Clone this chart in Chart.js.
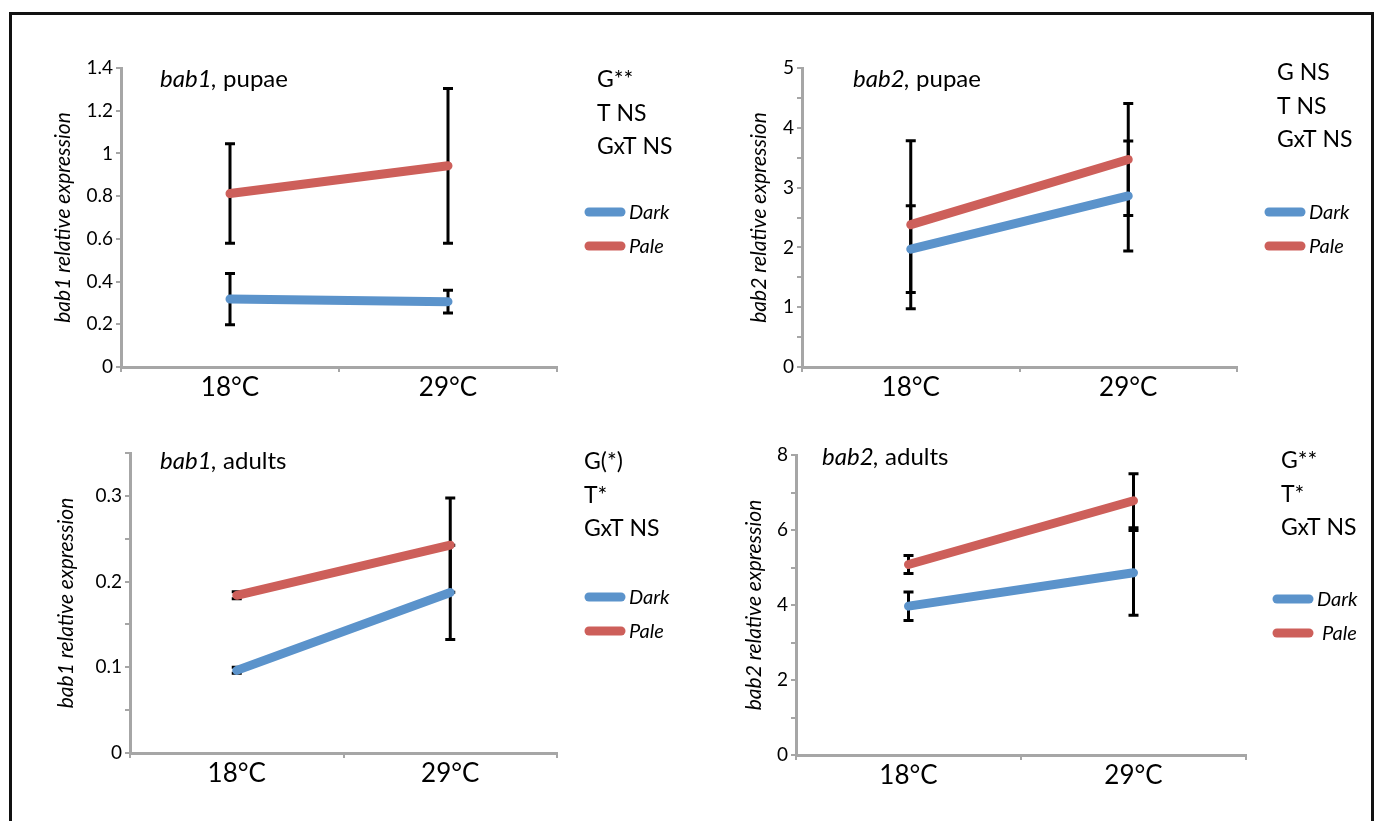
<!DOCTYPE html>
<html>
<head>
<meta charset="utf-8">
<script src="https://cdn.jsdelivr.net/npm/chart.js@4.4.1/dist/chart.umd.min.js"></script>
<style>
  body { margin: 0; background: #fff; width: 1378px; height: 821px; overflow: hidden; position: relative; font-family: Lato, sans-serif; }
  #frame { position: absolute; left: 9px; top: 12px; width: 1365px; height: 840px; border: 3px solid #111; box-sizing: border-box; }
  canvas { position: absolute; }
</style>
</head>
<body>
<div id="frame"></div>
<canvas id="p1" width="670" height="400" style="left:12px;top:15px"></canvas>
<canvas id="p2" width="682" height="400" style="left:688px;top:15px"></canvas>
<canvas id="p3" width="670" height="405" style="left:12px;top:415px"></canvas>
<canvas id="p4" width="682" height="405" style="left:688px;top:415px"></canvas>
<script>
// categories and series
const categories = ['18°C', '29°C'];
const seriesNames = ['Dark', 'Pale'];

const bab1PupaeDark = [0.318, 0.306];
const bab1PupaeDarkErr = [0.12, 0.053];
const bab1PupaePale = [0.812, 0.942];
const bab1PupaePaleErr = [0.233, 0.362];
const bab1PupaeTicks = [0, 0.2, 0.4, 0.6, 0.8, 1, 1.2, 1.4];

const bab2PupaeDark = [1.97, 2.86];
const bab2PupaeDarkErr = [0.725, 0.92];
const bab2PupaePale = [2.38, 3.47];
const bab2PupaePaleErr = [1.405, 0.935];
const bab2PupaeTicks = [0, 1, 2, 3, 4, 5];

const bab1AdultsDark = [0.0964, 0.1873];
const bab1AdultsDarkErr = [0.0035, 0.055];
const bab1AdultsPale = [0.184, 0.2425];
const bab1AdultsPaleErr = [0.004, 0.055];
const bab1AdultsTicks = [0, 0.1, 0.2, 0.3];

const bab2AdultsDark = [3.97, 4.86];
const bab2AdultsDarkErr = [0.38, 1.13];
const bab2AdultsPale = [5.08, 6.78];
const bab2AdultsPaleErr = [0.24, 0.72];
const bab2AdultsTicks = [0, 2, 4, 6, 8];

const stats1 = ['G**', 'T NS', 'GxT NS'];
const stats2 = ['G NS', 'T NS', 'GxT NS'];
const stats3 = ['G(*)', 'T*', 'GxT NS'];
const stats4 = ['G**', 'T*', 'GxT NS'];

const BLUE = '#5B93CB';
const RED = '#CD5F5A';
const AXIS = '#A6A6A6';

Chart.defaults.font.family = 'Lato, sans-serif';
Chart.defaults.color = '#000';

// error bars, titles, stats and legend
const panelDecor = {
  id: 'panelDecor',
  beforeDatasetsDraw(chart, args, opts) {
    const { ctx, scales: { x, y } } = chart;
    ctx.save();
    ctx.strokeStyle = '#000';
    ctx.lineWidth = 3;
    chart.data.datasets.forEach((ds, i) => {
      ds.data.forEach((v, j) => {
        const e = opts.errors[i][j];
        const px = x.getPixelForValue(j);
        const top = y.getPixelForValue(v + e);
        const bot = y.getPixelForValue(v - e);
        ctx.beginPath();
        ctx.moveTo(px, top); ctx.lineTo(px, bot);
        ctx.moveTo(px - 5, top); ctx.lineTo(px + 5, top);
        ctx.moveTo(px - 5, bot); ctx.lineTo(px + 5, bot);
        ctx.stroke();
      });
    });
    ctx.restore();
  },
  afterDraw(chart, args, opts) {
    const { ctx } = chart;
    const ox = opts.origin[0], oy = opts.origin[1];
    ctx.save();
    ctx.fillStyle = '#000';
    ctx.textBaseline = 'alphabetic';
    ctx.textAlign = 'left';

    // panel title: gene name italic, stage upright
    ctx.font = 'italic 24px Lato';
    ctx.fillText(opts.gene + ',', opts.title[0] - ox, opts.title[1] - oy);
    const w = ctx.measureText(opts.gene + ',').width;
    ctx.font = '24px Lato';
    ctx.fillText(' ' + opts.stage, opts.title[0] - ox + w, opts.title[1] - oy);

    // statistics
    ctx.font = '23px Lato';
    opts.stats.forEach((s, k) => {
      ctx.fillText(s, opts.statsPos[0] - ox, opts.statsPos[1] - oy + k * 33.5);
    });

    // legend
    chart.data.datasets.forEach((ds, i) => {
      const ly = opts.legend[1] + i * 34 - oy;
      const lx = opts.legend[0] - ox;
      ctx.strokeStyle = ds.borderColor;
      ctx.lineWidth = 9;
      ctx.lineCap = 'round';
      ctx.beginPath();
      ctx.moveTo(lx + 4, ly); ctx.lineTo(lx + 36, ly);
      ctx.stroke();
      ctx.font = 'italic 20px Lato';
      ctx.fillText(ds.label, lx + 44 + (i === 1 ? opts.paleShift : 0), ly + 7);
    });
    ctx.restore();
  }
};

function makePanel(id, p) {
  const canvas = document.getElementById(id);
  const cx = parseFloat(canvas.style.left), cy = parseFloat(canvas.style.top);
  const cw = canvas.width, ch = canvas.height;
  const yTitleFont = 21;
  const padLeft = p.yTitleX - yTitleFont * 0.6 - cx;
  const yWidth = p.area.l - cx - padLeft;
  const xHeight = 40;
  const padBottom = ch - (p.area.b - cy) - xHeight;

  new Chart(canvas, {
    type: 'line',
    data: {
      labels: categories,
      datasets: [
        { label: seriesNames[0], data: p.dark, borderColor: BLUE },
        { label: seriesNames[1], data: p.pale, borderColor: RED }
      ].map(d => Object.assign(d, {
        borderWidth: 9, borderCapStyle: 'round', pointRadius: 0, tension: 0, fill: false, clip: false
      }))
    },
    options: {
      responsive: false,
      animation: false,
      events: [],
      layout: {
        padding: {
          left: padLeft,
          top: p.area.t - cy,
          right: cw - (p.area.r - cx),
          bottom: padBottom
        }
      },
      scales: {
        x: {
          type: 'category',
          offset: true,
          grid: { offset: true, drawOnChartArea: false, tickLength: 5, color: AXIS, lineWidth: 2 },
          border: { color: AXIS, width: 3 },
          ticks: { font: { size: 26 }, padding: 0, color: '#000' },
          afterFit: s => { s.height = xHeight; }
        },
        y: {
          min: 0,
          max: p.max,
          grid: { drawOnChartArea: false, tickLength: 5, color: AXIS, lineWidth: 2 },
          border: { color: AXIS, width: 3 },
          ticks: {
            stepSize: p.step,
            autoSkip: false,
            padding: 3,
            font: { size: 19 },
            color: '#000',
            callback: v => {
              const t = p.ticks.find(t => Math.abs(t - v) < 1e-9);
              return t === undefined ? '' : String(t);
            }
          },
          title: {
            display: true,
            text: p.gene + ' relative expression',
            font: { size: yTitleFont, style: 'italic' },
            color: '#000',
            padding: { top: 0, bottom: 0 }
          },
          afterFit: s => { s.width = yWidth; }
        }
      },
      plugins: {
        legend: { display: false },
        tooltip: { enabled: false },
        panelDecor: {
          origin: [cx, cy],
          errors: [p.darkErr, p.paleErr],
          gene: p.gene,
          stage: p.stage,
          title: p.title,
          stats: p.stats,
          statsPos: p.statsPos,
          legend: p.legend,
          paleShift: p.paleShift || 0
        }
      }
    },
    plugins: [panelDecor]
  });
}

makePanel('p1', {
  gene: 'bab1', stage: 'pupae',
  dark: bab1PupaeDark, darkErr: bab1PupaeDarkErr, pale: bab1PupaePale, paleErr: bab1PupaePaleErr,
  max: 1.4, step: 0.2, ticks: bab1PupaeTicks, stats: stats1,
  area: { l: 121, t: 68, r: 557, b: 367 }, yTitleX: 63,
  title: [160, 87], statsPos: [597, 87], legend: [585, 212]
});
makePanel('p2', {
  gene: 'bab2', stage: 'pupae',
  dark: bab2PupaeDark, darkErr: bab2PupaeDarkErr, pale: bab2PupaePale, paleErr: bab2PupaePaleErr,
  max: 5, step: 0.5, ticks: bab2PupaeTicks, stats: stats2,
  area: { l: 802, t: 68, r: 1237, b: 367 }, yTitleX: 759,
  title: [853, 87], statsPos: [1277, 80], legend: [1265, 212]
});
makePanel('p3', {
  gene: 'bab1', stage: 'adults',
  dark: bab1AdultsDark, darkErr: bab1AdultsDarkErr, pale: bab1AdultsPale, paleErr: bab1AdultsPaleErr,
  max: 0.35, step: 0.05, ticks: bab1AdultsTicks, stats: stats3,
  area: { l: 130, t: 453, r: 557, b: 753 }, yTitleX: 66,
  title: [160, 469], statsPos: [584, 469], legend: [585, 597]
});
makePanel('p4', {
  gene: 'bab2', stage: 'adults',
  dark: bab2AdultsDark, darkErr: bab2AdultsDarkErr, pale: bab2AdultsPale, paleErr: bab2AdultsPaleErr,
  max: 8, step: 1, ticks: bab2AdultsTicks, stats: stats4,
  area: { l: 796, t: 455, r: 1246, b: 755 }, yTitleX: 754,
  title: [822, 465], statsPos: [1281, 468], legend: [1273, 599], paleShift: 5
});
</script>
</body>
</html>
